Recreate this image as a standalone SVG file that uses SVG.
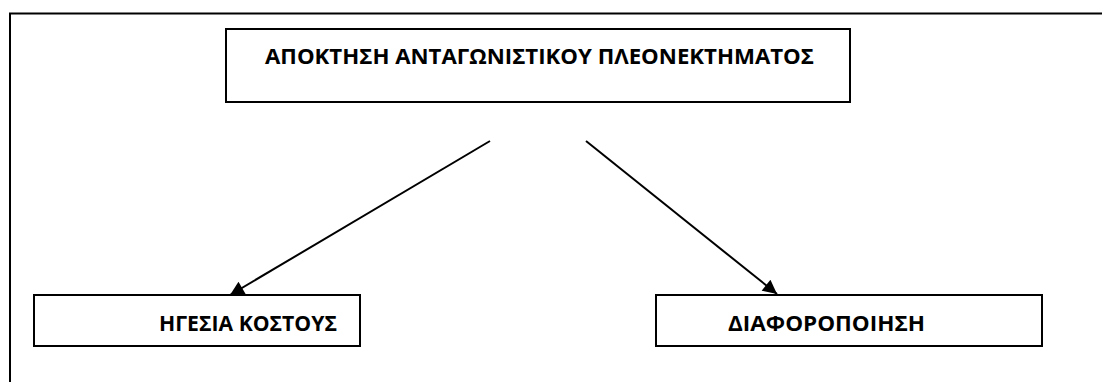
<svg xmlns="http://www.w3.org/2000/svg" width="1102" height="382" viewBox="0 0 1102 382">
  <defs>
    <style>
      .frame { fill: none; stroke: #000; stroke-width: 2; }
      .box { fill: #fff; stroke: #000; stroke-width: 2; }
      .label { font-family: "Open Sans", "Liberation Sans", sans-serif; font-weight: bold; font-size: 21px; fill: #000; }
      .link { stroke: #000; stroke-width: 2; fill: none; marker-end: url(#head); }
    </style>
    <marker id="head" viewBox="0 0 10 10" refX="10" refY="5" markerWidth="18" markerHeight="14" markerUnits="userSpaceOnUse" orient="auto">
      <path d="M0,0 L10,5 L0,10 z" fill="#000"/>
    </marker>
  </defs>
  <rect width="1102" height="382" fill="#fff"/>
  <!-- page frame, open to the right and bottom -->
  <path class="frame" d="M10,382 V13.5 H1102"/>

  <g id="connectors">
    <line class="link" x1="490" y1="141" x2="230" y2="295"/>
    <line class="link" x1="586" y1="141" x2="777" y2="294"/>
  </g>

  <g id="node-advantage">
    <rect class="box" x="226" y="29" width="624" height="73"/>
    <text class="label" x="265" y="64" textLength="549" lengthAdjust="spacingAndGlyphs">ΑΠΟΚΤΗΣΗ ΑΝΤΑΓΩΝΙΣΤΙΚΟΥ ΠΛΕΟΝΕΚΤΗΜΑΤΟΣ</text>
  </g>

  <g id="node-cost">
    <rect class="box" x="34" y="295" width="326" height="51"/>
    <text class="label" x="159" y="331" textLength="178" lengthAdjust="spacingAndGlyphs">ΗΓΕΣΙΑ ΚΟΣΤΟΥΣ</text>
  </g>

  <g id="node-differentiation">
    <rect class="box" x="656" y="295" width="386" height="51"/>
    <text class="label" x="728" y="331" textLength="197" lengthAdjust="spacingAndGlyphs">ΔΙΑΦΟΡΟΠΟΙΗΣΗ</text>
  </g>
</svg>
